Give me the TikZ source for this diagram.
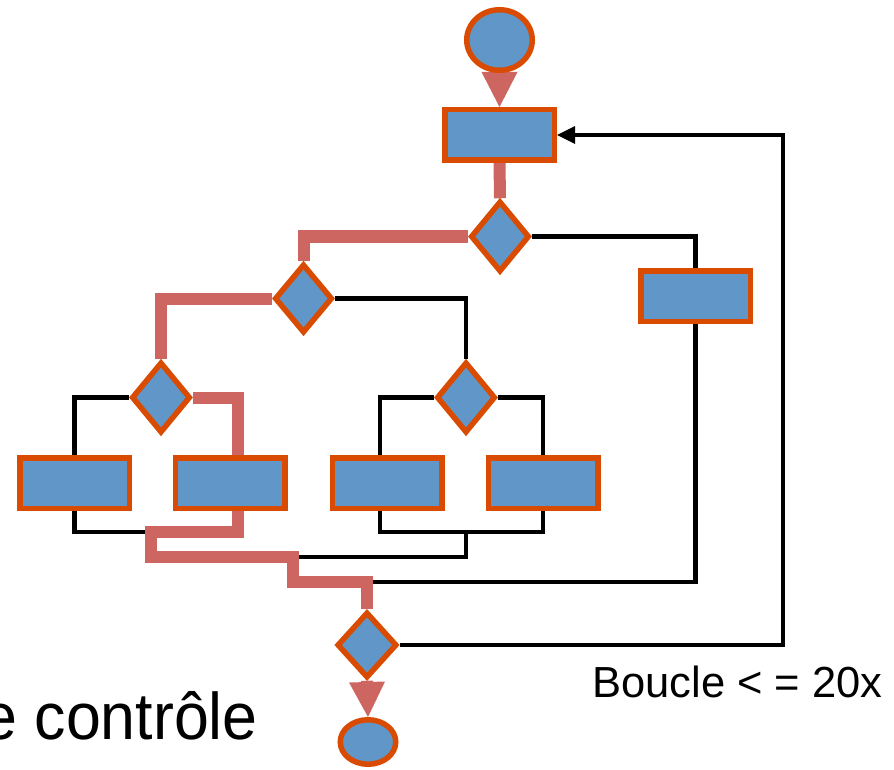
\documentclass[tikz,border=0pt]{standalone}
\usepackage{fontspec}
\setmainfont{Liberation Sans}
\usetikzlibrary{shapes.geometric,arrows.meta,backgrounds}
\definecolor{fillblue}{RGB}{96,150,200}
\definecolor{edgeorange}{RGB}{217,75,0}
\definecolor{flowred}{RGB}{205,102,96}
\begin{document}
\begin{tikzpicture}[x=1pt,y=-1pt,
  box/.style={draw=edgeorange,fill=fillblue,line width=5.5pt,rectangle,minimum width=109.5pt,minimum height=50.5pt,inner sep=0pt},
  dia/.style={draw=edgeorange,fill=fillblue,line width=5.5pt,diamond,inner sep=0pt,line join=miter},
  term/.style={draw=edgeorange,fill=fillblue,line width=5.5pt,ellipse,inner sep=0pt},
  redline/.style={draw=flowred,line width=12pt,line join=miter},
  blackline/.style={draw=black,line width=4.5pt,line join=miter},
  redarrow/.style={redline,-{Triangle[length=35pt,width=36pt,line width=0pt]}},
  blackarrow/.style={blackline,-{Triangle[length=18pt,width=18pt,line width=0pt]}}]
\useasboundingbox (0,0) rectangle (894,770);

% nodes
\node[term,minimum width=65.5pt,minimum height=60.5pt] (c1) at (499.5,40) {};
\node[box] (r1) at (499.5,135) {};
\node[dia,minimum width=59pt,minimum height=71pt] (d1) at (500,236.5) {};
\node[box] (r5) at (695.5,296) {};
\node[dia,minimum width=58pt,minimum height=69pt] (d2) at (303.5,298.5) {};
\node[dia,minimum width=59pt,minimum height=71pt] (d3) at (161,397.5) {};
\node[dia,minimum width=59pt,minimum height=71pt] (d4) at (466,397.5) {};
\node[box] (ra) at (74.5,483) {};
\node[box] (rb) at (230,483) {};
\node[box] (rc) at (387,483) {};
\node[box] (rd) at (543,483) {};
\node[dia,minimum width=60pt,minimum height=66pt] (d5) at (367,645) {};
\node[term,minimum width=55.5pt,minimum height=44.5pt] (c2) at (368,742) {};

% joints
\coordinate (jl) at (151,532);
\coordinate (jl2) at (151,557);
\coordinate (jm) at (293,557);
\coordinate (jm2) at (293,582);
\coordinate (jr) at (367,582);
\coordinate (jc) at (466,532);
\coordinate (loopt) at (783,135);

\begin{scope}[on background layer]
\draw[redarrow] (c1.south) -- (r1.north);
\draw[redline] (r1.south) -- (d1.north);
\draw[redline] (d1.west) -| (d2.north);
\draw[blackline] (d1.east) -| (r5.north);
\draw[redline] (d2.west) -| (d3.north);
\draw[blackline] (d2.east) -| (d4.north);
\draw[blackline] (d3.west) -| (ra.north);
\draw[redline] (d3.east) -| ([xshift=8pt]rb.north);
\draw[blackline] (d4.west) -| ([xshift=-7pt]rc.north);
\draw[blackline] (d4.east) -| (rd.north);
\draw[blackline] (ra.south) |- (jl);
\draw[blackline] ([xshift=-7pt]rc.south) |- (jc) -| (rd.south);
\draw[blackline] (jc) |- (jm);
\draw[blackline] (r5.south) |- (jr);
\draw[redline] ([xshift=8pt]rb.south) |- (jl) -- (jl2) -- (jm) -- (jm2) -- (jr) -- (d5.north);
\draw[blackarrow] (d5.east) -| (loopt) -- (r1.east);
\draw[redarrow] (d5.south) -- (c2.north);
\end{scope}

% texts
\node[anchor=base west,inner sep=0pt,font=\fontsize{43.5pt}{50pt}\selectfont] (lbl) at (592,697) {Boucle < = 20x};
\node[anchor=base east,inner sep=0pt,font=\fontsize{66pt}{70pt}\selectfont] (ttl) at (258,739) {\scalebox{0.95}[1]{e contrôle}};
\end{tikzpicture}
\end{document}
